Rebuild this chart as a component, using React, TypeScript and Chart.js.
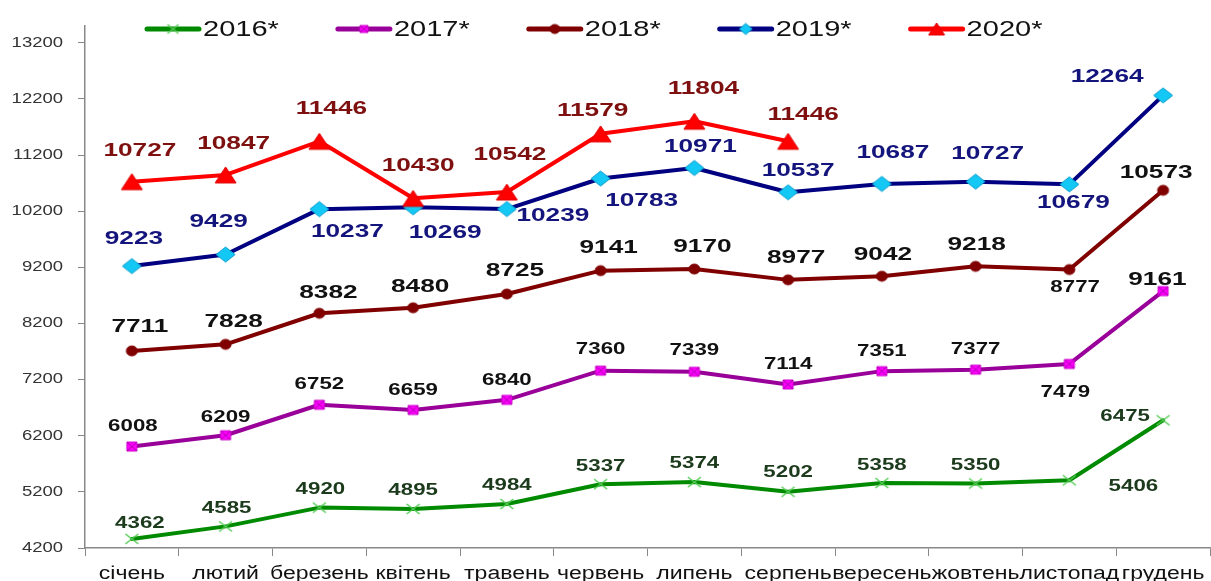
import React, { useEffect, useRef } from 'react';
import { Chart, registerables } from 'chart.js';

Chart.register(...registerables);

// ---------- data ----------
const months = ['січень', 'лютий', 'березень', 'квітень', 'травень', 'червень', 'липень', 'серпень', 'вересень', 'жовтень', 'листопад', 'грудень'];
const seriesNames = ['2016*', '2017*', '2018*', '2019*', '2020*'];
const values2016 = [4362, 4585, 4920, 4895, 4984, 5337, 5374, 5202, 5358, 5350, 5406, 6475];
const values2017 = [6008, 6209, 6752, 6659, 6840, 7360, 7339, 7114, 7351, 7377, 7479, 8777];
const values2018 = [7711, 7828, 8382, 8480, 8725, 9141, 9170, 8977, 9042, 9218, 9161, 10573];
const values2019 = [9223, 9429, 10237, 10269, 10239, 10783, 10971, 10537, 10687, 10727, 10679, 12264];
const values2020 = [10727, 10847, 11446, 10430, 10542, 11579, 11804, 11446];
const yTickValues = [4200, 5200, 6200, 7200, 8200, 9200, 10200, 11200, 12200, 13200];
const Y_MIN = 4200;
const Y_MAX = 13500;

// ---------- label placement (pixel offsets from each point) ----------
const offsets2016 = [[8, -16], [1, -18], [1, -18], [0, -19], [0, -19], [0, -18], [0, -19], [0, -19], [0, -18], [0, -18], [64, 6], [-38, -4]];
const offsets2017 = [[1, -20], [0, -18], [0, -20], [0, -20], [0, -20], [0, -21], [0, -21], [0, -20], [0, -20], [0, -20], [-4, 28], [-88, -4]];
const offsets2018 = [[8, -24], [8, -23], [9, -21], [7, -21], [8, -23], [8, -23], [8, -22], [8, -22], [1, -21], [1, -22], [88, 10], [-7, -18]];
const offsets2019 = [[2, -27], [-7, -33], [28, 23], [32, 25], [46, 7], [41, 22], [6, -21], [10, -22], [11, -31], [12, -28], [4, 18], [-56, -19]];
const offsets2020 = [[8, -31], [8, -31], [12, -33], [5, -33], [3, -37], [-8, -23], [9, -32], [15, -27]];

const FONT = "'Liberation Sans', Arial, sans-serif";

type Style = {
  line: string;
  marker: string;
  mw: number; mh: number;
  lw: number; lh: number;
  fill: string; stroke: string; mlw: number;
  labelColor: string; labelFont: string; sx: number;
  offsets: number[][];
};

const styles: Style[] = [
  { line: '#008a00', marker: 'x', mw: 13, mh: 10, lw: 11, lh: 9, fill: '#66dd66', stroke: '#55cc55', mlw: 1.5, labelColor: '#1c3a1c', labelFont: `bold 17px ${FONT}`, sx: 1.31, offsets: offsets2016 },
  { line: '#990099', marker: 'rectx', mw: 10, mh: 9, lw: 8, lh: 7, fill: '#ff00ff', stroke: '#cc00cc', mlw: 1, labelColor: '#111111', labelFont: `bold 17px ${FONT}`, sx: 1.31, offsets: offsets2017 },
  { line: '#800000', marker: 'circle', mw: 11, mh: 10, lw: 10, lh: 9, fill: '#800000', stroke: '#800000', mlw: 1, labelColor: '#111111', labelFont: `bold 19px ${FONT}`, sx: 1.38, offsets: offsets2018 },
  { line: '#000080', marker: 'diamond', mw: 19, mh: 15, lw: 13, lh: 11, fill: '#14c8f5', stroke: '#0a9ccc', mlw: 1, labelColor: '#14147d', labelFont: `bold 19px ${FONT}`, sx: 1.38, offsets: offsets2019 },
  { line: '#ff0000', marker: 'triangle', mw: 21, mh: 16, lw: 16, lh: 12, fill: '#ff0000', stroke: '#e00000', mlw: 1, labelColor: '#7e1010', labelFont: `bold 19px ${FONT}`, sx: 1.38, offsets: offsets2020 },
];

const seriesValues = [values2016, values2017, values2018, values2019, values2020];

function makeMarker(kind: string, w: number, h: number, fill: string, stroke: string, lw: number): HTMLCanvasElement {
  const pad = 2;
  const c = document.createElement('canvas');
  c.width = Math.ceil(w + 2 * pad);
  c.height = Math.ceil(h + 2 * pad);
  const g = c.getContext('2d') as CanvasRenderingContext2D;
  const cx = c.width / 2, cy = c.height / 2, hw = w / 2, hh = h / 2;
  g.fillStyle = fill;
  g.strokeStyle = stroke;
  g.lineWidth = lw;
  g.beginPath();
  if (kind === 'x') {
    g.moveTo(cx - hw, cy - hh); g.lineTo(cx + hw, cy + hh);
    g.moveTo(cx + hw, cy - hh); g.lineTo(cx - hw, cy + hh);
    g.stroke();
  } else if (kind === 'rectx') {
    g.rect(cx - hw, cy - hh, w, h); g.fill(); g.stroke();
    g.beginPath();
    g.strokeStyle = '#aa00aa';
    g.moveTo(cx - hw, cy - hh); g.lineTo(cx + hw, cy + hh);
    g.moveTo(cx + hw, cy - hh); g.lineTo(cx - hw, cy + hh);
    g.stroke();
  } else if (kind === 'circle') {
    g.ellipse(cx, cy, hw, hh, 0, 0, Math.PI * 2); g.fill(); g.stroke();
  } else if (kind === 'diamond') {
    g.moveTo(cx, cy - hh); g.lineTo(cx + hw, cy); g.lineTo(cx, cy + hh); g.lineTo(cx - hw, cy); g.closePath();
    g.fill(); g.stroke();
  } else if (kind === 'triangle') {
    g.moveTo(cx, cy - hh); g.lineTo(cx + hw, cy + hh); g.lineTo(cx - hw, cy + hh); g.closePath();
    g.fill(); g.stroke();
  }
  return c;
}

function drawStretched(ctx: CanvasRenderingContext2D, text: string, x: number, y: number, font: string, color: string, sx: number, align: CanvasTextAlign, baseline: CanvasTextBaseline) {
  ctx.save();
  ctx.translate(x, y);
  ctx.scale(sx, 1);
  ctx.font = font;
  ctx.fillStyle = color;
  ctx.textAlign = align;
  ctx.textBaseline = baseline;
  ctx.fillText(text, 0, 0);
  ctx.restore();
}

export default function App() {
  const ref = useRef<HTMLCanvasElement>(null);

  useEffect(() => {
    const canvas = ref.current as HTMLCanvasElement;
    const chartMarkers = styles.map(s => makeMarker(s.marker, s.mw, s.mh, s.fill, s.stroke, s.mlw));
    const legendMarkers = styles.map(s => makeMarker(s.marker, s.lw, s.lh, s.fill, s.stroke, s.mlw));

    const textPlugin = {
      id: 'customText',
      afterDraw(chart: any) {
        const ctx: CanvasRenderingContext2D = chart.ctx;
        const xs = chart.scales.x;
        const ys = chart.scales.y;
        // y tick labels
        yTickValues.forEach(v => {
          drawStretched(ctx, String(v), 63, ys.getPixelForValue(v), `14px ${FONT}`, '#333333', 1.32, 'right', 'middle');
        });
        // x tick labels
        months.forEach((m, i) => {
          drawStretched(ctx, m, xs.getPixelForValue(i), 579, `18px ${FONT}`, '#111111', 1.28, 'center', 'alphabetic');
        });
        // legend
        let lx = 147;
        const ly = 29;
        seriesNames.forEach((name, i) => {
          const st = styles[i];
          ctx.save();
          ctx.strokeStyle = st.line;
          ctx.lineWidth = 5;
          ctx.lineCap = 'round';
          ctx.beginPath();
          ctx.moveTo(lx, ly);
          ctx.lineTo(lx + 52, ly);
          ctx.stroke();
          ctx.restore();
          const mk = legendMarkers[i];
          ctx.drawImage(mk, lx + 26 - mk.width / 2, ly - mk.height / 2);
          const font = `22px ${FONT}`;
          drawStretched(ctx, name, lx + 56, ly + 1, font, '#111111', 1.32, 'left', 'middle');
          ctx.save();
          ctx.font = font;
          const tw = ctx.measureText(name).width * 1.32;
          ctx.restore();
          lx += 56 + tw + 59;
        });
        // data labels
        seriesValues.forEach((vals, i) => {
          const meta = chart.getDatasetMeta(i);
          const st = styles[i];
          vals.forEach((v, j) => {
            const el = meta.data[j];
            if (!el) return;
            const off = st.offsets[j] || [0, -20];
            drawStretched(ctx, String(v), el.x + off[0], el.y + off[1], st.labelFont, st.labelColor, st.sx, 'center', 'middle');
          });
        });
      },
    };

    const datasets = seriesValues.map((vals, i) => ({
      label: seriesNames[i],
      data: vals,
      borderColor: styles[i].line,
      backgroundColor: styles[i].line,
      borderWidth: 4,
      borderJoinStyle: 'round' as const,
      borderCapStyle: 'round' as const,
      pointStyle: chartMarkers[i],
      pointRadius: 6,
      tension: 0,
      fill: false,
      order: 5 - i,
    }));

    const chart = new Chart(canvas, {
      type: 'line',
      data: { labels: months, datasets },
      options: {
        responsive: false,
        animation: false,
        devicePixelRatio: 1,
        layout: { padding: { top: 26, right: 3, left: 0, bottom: 0 } },
        plugins: { legend: { display: false }, tooltip: { enabled: false } },
        scales: {
          x: {
            type: 'category',
            offset: true,
            ticks: { display: false },
            grid: { drawOnChartArea: false, drawTicks: true, tickLength: 8, color: '#888888', offset: true },
            border: { display: true, color: '#888888', width: 1.5 },
            afterFit: (s: any) => { s.height = 33; },
          },
          y: {
            type: 'linear',
            min: Y_MIN,
            max: Y_MAX,
            ticks: { display: false },
            afterBuildTicks: (s: any) => { s.ticks = yTickValues.map(v => ({ value: v })); },
            grid: { drawOnChartArea: false, drawTicks: true, tickLength: 7, color: '#888888' },
            border: { display: true, color: '#888888', width: 1.5 },
            afterFit: (s: any) => { s.width = 85; },
          },
        },
      },
      plugins: [textPlugin],
    } as any);

    return () => chart.destroy();
  }, []);

  return (
    <div style={{ position: 'fixed', left: 0, top: 0, width: 1211, height: 581, overflow: 'hidden', background: '#ffffff' }}>
      <canvas ref={ref} width={1220} height={581} style={{ display: 'block', width: 1220, height: 581 }} />
    </div>
  );
}
